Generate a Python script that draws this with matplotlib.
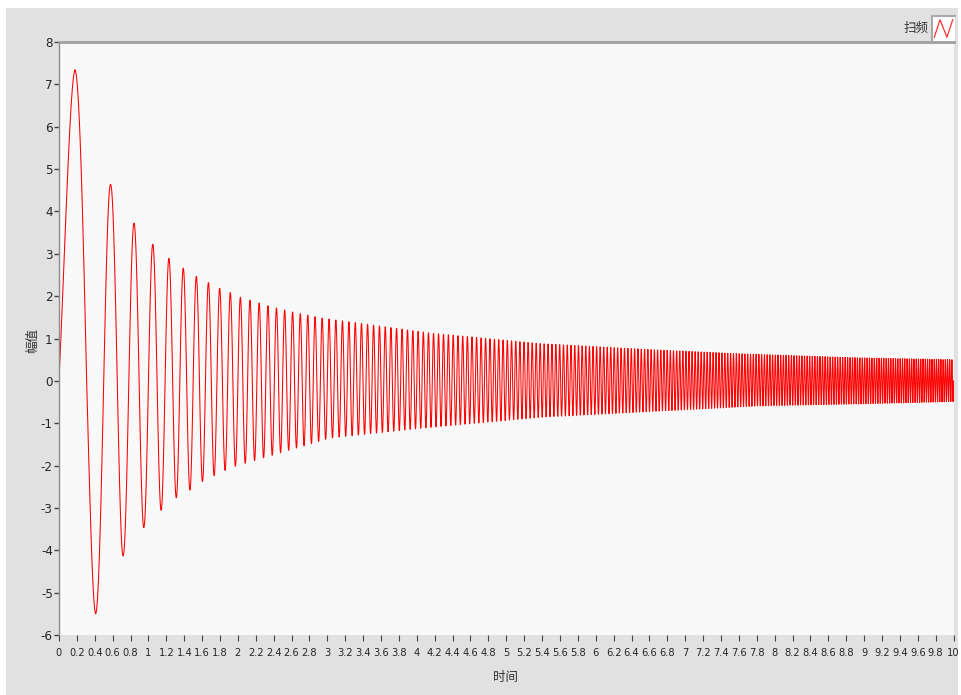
"""Swept-sine response (扫频) plotted on a LabVIEW-style waveform graph."""
import matplotlib
matplotlib.use("Agg")
import matplotlib.pyplot as plt
import numpy as np
from matplotlib import font_manager
from matplotlib.patches import Rectangle

plt.rcParams["path.simplify"] = False

# sweep settings of the generated signal
sample_rate_hz = 1000.0
duration_s = 10.0
sweep_start_hz = 1.0
sweep_stop_hz = 41.0

# envelope of the response: positive peaks and negative troughs (time, amplitude)
peak_t = [0.18, 0.58, 0.84, 1.05, 1.23, 1.39, 1.54, 1.67, 1.80, 1.92, 2.03,
          2.34, 2.62, 2.95, 4.15, 5.38, 6.60, 7.62, 8.85, 10.0]
peak_v = [7.35, 4.62, 3.72, 3.22, 2.89, 2.66, 2.46, 2.32, 2.18, 2.08, 1.97,
          1.77, 1.62, 1.48, 1.13, 0.88, 0.74, 0.64, 0.55, 0.50]
trough_t = [0.41, 0.72, 0.95, 1.14, 1.31, 1.47, 1.60, 1.74, 1.86, 1.98,
            3.03, 4.04, 5.38, 7.84, 8.85, 10.0]
trough_v = [-5.50, -4.12, -3.46, -3.06, -2.76, -2.57, -2.38, -2.23, -2.11, -2.01,
            -1.35, -1.12, -0.86, -0.59, -0.55, -0.49]

x_ticks = np.round(np.arange(0, 10.01, 0.2), 1)
x_tick_labels = [("%d" % v) if v == int(v) else ("%g" % v) for v in x_ticks]
y_ticks = list(range(-6, 9))

t = np.arange(0, duration_s + 0.5 / sample_rate_hz, 1.0 / sample_rate_hz)
rate = (sweep_stop_hz - sweep_start_hz) / duration_s
carrier = np.sin(2 * np.pi * (sweep_start_hz * t + 0.5 * rate * t ** 2))
upper = np.interp(t, peak_t, peak_v)
lower = np.interp(t, trough_t, trough_v)
y = np.where(carrier >= 0, carrier * upper, -carrier * lower)

# narrow face for the crowded tick labels, if one is installed
narrow_file = None
for f in font_manager.fontManager.ttflist:
    fn = f.fname.lower()
    if ("narrow" in f.name.lower() or "condensed" in fn) and "bold" not in fn \
            and "italic" not in fn and "oblique" not in fn:
        narrow_file = f.fname
        break
if narrow_file:
    xtick_fp = font_manager.FontProperties(fname=narrow_file, size=7.9)
    ytick_fp = font_manager.FontProperties(fname=narrow_file, size=9.5)
else:
    xtick_fp = font_manager.FontProperties(family="Liberation Sans", size=7.4)
    ytick_fp = font_manager.FontProperties(family="Liberation Sans", size=9)

W, H = 961, 695
fig = plt.figure(figsize=(W / 100, H / 100), dpi=100)
fig.patch.set_facecolor("white")
# grey control panel behind the graph
fig.patches.append(Rectangle((6 / W, 0), (958 - 6) / W, (H - 8) / H,
                             transform=fig.transFigure, facecolor="#e1e1e1",
                             edgecolor="none", zorder=-10))

ax = fig.add_axes([59 / W, 1 - 635 / H, (954 - 59) / W, (635 - 42) / H])
ax.set_facecolor("#f9f9f9")
ax.plot(t, y, color="#ff0000", lw=0.75, antialiased=True)

ax.set_xlim(0, 10.005)
ax.set_ylim(-6, 8)

ax.set_xticks(x_ticks)
ax.set_xticklabels(x_tick_labels, fontproperties=xtick_fp, color="#262626")
ax.set_yticks(y_ticks)
ax.set_yticklabels([str(v) for v in y_ticks], fontproperties=ytick_fp,
                   color="#262626")
ax.tick_params(axis="x", direction="out", length=4.5, width=0.8, color="#444444", pad=5)
ax.tick_params(axis="y", direction="out", length=3.5, width=1.0, color="#444444", pad=1)

for side in ("right", "bottom"):
    ax.spines[side].set_visible(False)
ax.spines["left"].set_color("#8c8c8c")
ax.spines["left"].set_linewidth(1.0)
ax.spines["top"].set_color("#a0a0a0")
ax.spines["top"].set_linewidth(2.0)

cjk = ["Noto Sans CJK SC", "DejaVu Sans"]
fig.text(506 / W, 1 - 677 / H, "时间", family=cjk, fontsize=9, color="#333333",
         ha="center", va="center")
fig.text(33 / W, 1 - 340 / H, "幅值", family=cjk, fontsize=9, color="#333333",
         ha="center", va="center", rotation=90)

# legend: name plus a small plot icon
fig.text(929 / W, 1 - 28 / H, "扫频", family=cjk, fontsize=9, color="#333333",
         ha="right", va="center")
icon = fig.add_axes([932 / W, 1 - 41 / H, 23 / W, 25 / H])
icon.set_facecolor("white")
icon.plot([0.1, 0.35, 0.65, 0.9], [0.15, 0.85, 0.15, 0.85], color="#ff3030", lw=0.9)
icon.set_xlim(0, 1)
icon.set_ylim(0, 1)
icon.set_xticks([])
icon.set_yticks([])
for side in ("right", "bottom"):
    icon.spines[side].set_visible(False)
for side in ("left", "top"):
    icon.spines[side].set_color("#a8a8a8")
    icon.spines[side].set_linewidth(1.5)

fig.savefig("out.png", dpi=100)
